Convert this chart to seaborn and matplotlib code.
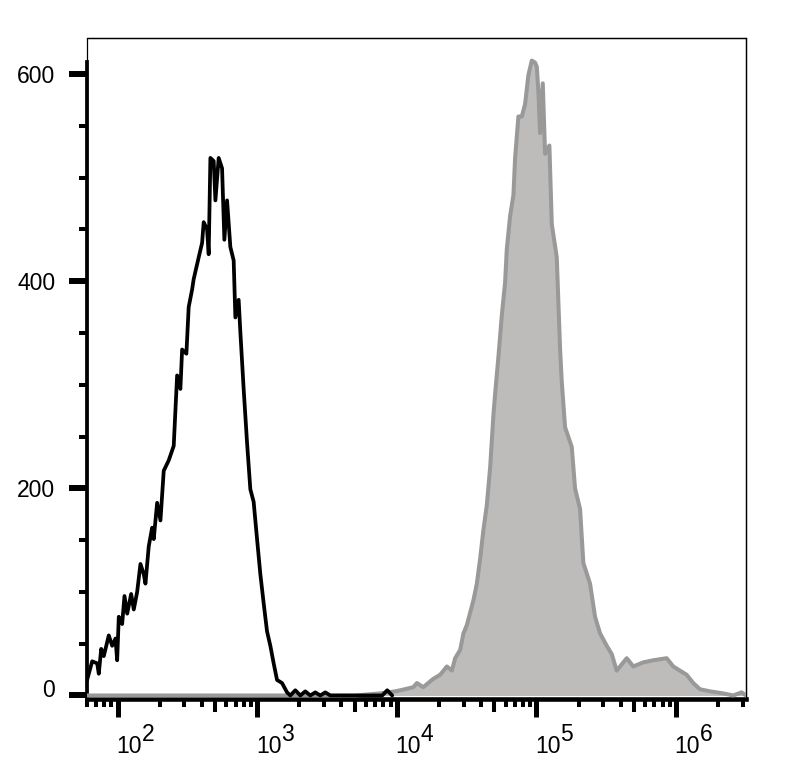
import matplotlib
matplotlib.use("Agg")
import matplotlib.pyplot as plt
import numpy as np
import pandas as pd
import seaborn as sns
from matplotlib import transforms
from matplotlib.ticker import FixedLocator, NullFormatter
from matplotlib.patches import Rectangle

# ---------------- data ----------------
black_intensity = [60, 65.6, 71.2, 73.1, 76.1, 79.4, 86.2, 91.2, 96.3, 99.0,
                   101.7, 107.5, 111.7, 116.8, 124.7, 130.2, 137.7, 145.4, 153.6, 157.9,
                   166.7, 176.3, 181.0, 191.4, 202.2, 213.5, 231.8, 251.7, 258.8, 266.2,
                   281.0, 289.1, 310.2, 322.2, 341.0, 349.9, 380.0, 402.0, 412.7, 436.4,
                   448.1, 460.9, 486.7, 500.6, 528.4, 558.8, 580.4, 606.8, 640.7, 676.7,
                   695.9, 734.7, 755.5, 797.8, 843.9, 891.0, 940.8, 995.2, 1051, 1110,
                   1173, 1239, 1309, 1384, 1503, 1632, 1723, 1871, 2032, 2206,
                   2395, 2601, 2825, 3068, 3332, 7850, 8520, 9250]
black_count = [14, 33, 31, 21, 45, 38, 58, 48, 55, 34,
               76, 69, 96, 79, 98, 83, 100, 127, 117, 108,
               144, 162, 151, 186, 169, 217, 227, 241, 275, 309,
               296, 334, 330, 375, 392, 402, 423, 437, 457, 450,
               426, 519, 516, 478, 519, 509, 440, 478, 433, 420,
               365, 382, 351, 296, 244, 199, 187, 151, 117, 89,
               62, 48, 31, 15, 12, 3, 0, 5, 0, 4,
               0, 3, 0, 3, 0, 0, 5, 0]

grey_intensity = [60, 5000, 7596, 9723, 10560, 13085, 13908, 15431, 18194, 20417,
                  22798, 24758, 26140, 28390, 29975, 31704, 33473, 35340, 37383, 39474,
                  41676, 44085, 46545, 49142, 50530, 53361, 56434, 59590, 61285, 64710,
                  68340, 70270, 74200, 78480, 82860, 87500, 92560, 97730, 100500, 103200,
                  106100, 110900, 115200, 123700, 128700, 139700, 147500, 151700, 160200, 178900,
                  188900, 205200, 216600, 241900, 262700, 285300, 318600, 345900, 375600, 396700,
                  443100, 493900, 582400, 686800, 856200, 955000, 1066000, 1191000, 1328000, 1483000,
                  1748000, 2178000, 2567000, 2948000, 3170000]
grey_count = [0, 0, 2, 4, 5, 8, 12, 8, 16, 20,
              28, 24, 36, 44, 60, 68, 80, 92, 108, 132,
              160, 184, 220, 271, 291, 327, 367, 399, 431, 463,
              483, 519, 559, 559, 571, 599, 613, 611, 607, 583,
              543, 591, 523, 531, 455, 423, 335, 303, 259, 240,
              200, 180, 128, 108, 76, 60, 48, 40, 24, 28,
              36, 28, 32, 34, 36, 28, 24, 20, 12, 6,
              4, 2, 0, 3, 0]

y_ticks = [0, 200, 400, 600]
y_minor = [50, 100, 150, 250, 300, 350, 450, 500, 550]
x_decades = [2, 3, 4, 5, 6]

black_df = pd.DataFrame({"intensity": black_intensity, "count": black_count})
grey_df = pd.DataFrame({"intensity": grey_intensity, "count": grey_count})

# ---------------- figure ----------------
sns.set_theme(style="white")
plt.rcParams["font.family"] = ["Liberation Sans", "DejaVu Sans"]

W, H = 788, 769
fig = plt.figure(figsize=(W / 100, H / 100), dpi=100)
ax = fig.add_axes([86.5 / W, 1 - 699 / H, (746 - 86.5) / W, (699 - 38) / H])
ax.set_facecolor("white")

ax.fill_between(grey_df["intensity"], grey_df["count"], 0, color="#bebbbb", lw=0, zorder=2)
sns.lineplot(data=grey_df, x="intensity", y="count", ax=ax, color="#999999",
             lw=2.9, estimator=None, sort=False, zorder=3)
sns.lineplot(data=black_df, x="intensity", y="count", ax=ax, color="black",
             lw=2.7, estimator=None, sort=False, zorder=4)

ax.set_xscale("log")
ax.set_xlim(59.7, 3.17e6)
ax.set_ylim(-3.4, 634.8)
ax.set_xlabel("")
ax.set_ylabel("")
ax.grid(False)

# frame
for s in ["top", "right"]:
    ax.spines[s].set_linewidth(0.9)
    ax.spines[s].set_color("black")
ax.spines["left"].set_linewidth(2.7)
ax.spines["left"].set_color("black")
ax.spines["left"].set_bounds(-3.4, 612)
ax.spines["bottom"].set_linewidth(3.3)
ax.spines["bottom"].set_color("black")
ax.add_patch(Rectangle((0, 0), 1, 1, transform=ax.transAxes, fill=False,
                       lw=0.9, edgecolor="black", clip_on=False, zorder=1))

# y ticks
ax.yaxis.set_major_locator(FixedLocator(y_ticks))
ax.yaxis.set_minor_locator(FixedLocator(y_minor))
ax.yaxis.set_minor_formatter(NullFormatter())
ax.tick_params(axis="y", which="major", left=True, direction="out", length=13.3,
               width=4.3, color="black", labelsize=16.5, labelcolor="black", pad=9.2)
ax.tick_params(axis="y", which="minor", left=True, direction="out", length=6,
               width=2.9, color="black")

# x ticks
major_x = [10.0 ** d for d in x_decades]
minor_x = [k * 10.0 ** d for d in range(1, 7) for k in range(2, 10)]
ax.xaxis.set_major_locator(FixedLocator(major_x))
ax.xaxis.set_minor_locator(FixedLocator(minor_x))
ax.xaxis.set_major_formatter(NullFormatter())
ax.xaxis.set_minor_formatter(NullFormatter())
ax.tick_params(axis="x", which="major", bottom=True, direction="out", length=12.7,
               width=3.6, color="black")
ax.tick_params(axis="x", which="minor", bottom=True, direction="out", length=5.5,
               width=2.9, color="black")

fig.canvas.draw()
for tick, loc in zip(ax.xaxis.get_minor_ticks(), ax.xaxis.get_minorticklocs()):
    mant = loc / 10 ** np.floor(np.log10(loc) + 1e-9)
    if abs(mant - 5) < 1e-6:
        tick.tick1line.set_markersize(9)

# lift the "0" label slightly
t0 = ax.yaxis.get_major_ticks()[0]
t0.label1.set_transform(t0.label1.get_transform() +
                        transforms.ScaledTranslation(0, 7 / 100, fig.dpi_scale_trans))

# x labels: 10 with full-size raised exponent
blend = transforms.blended_transform_factory(ax.transData, ax.transAxes)
for d in x_decades:
    tb = transforms.offset_copy(blend, fig=fig, x=-1.5, y=-54, units="dots")
    ax.text(10.0 ** d, 0, "10", transform=tb, ha="left", va="baseline",
            fontsize=16.5, color="black", clip_on=False)
    te = transforms.offset_copy(blend, fig=fig, x=24, y=-42, units="dots")
    ax.text(10.0 ** d, 0, str(d), transform=te, ha="left", va="baseline",
            fontsize=16.5, color="black", clip_on=False)

fig.savefig("out.png", dpi=100, facecolor="white")
